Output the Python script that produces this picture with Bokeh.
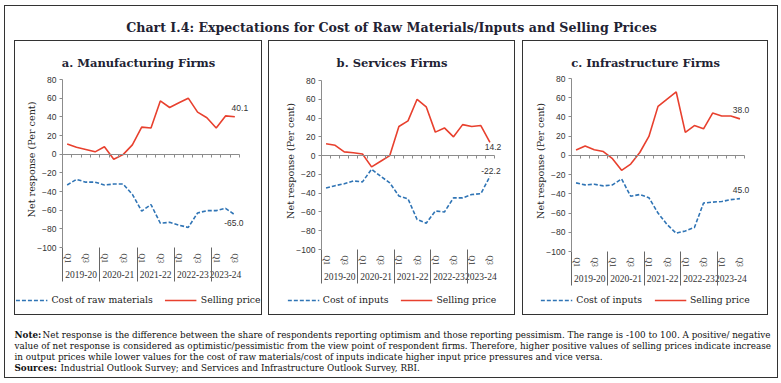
import math
from bokeh.plotting import figure
from bokeh.models import (Range1d, FixedTicker, Legend, LegendItem, LinearAxis,
                          ColumnDataSource, Spacer)
from bokeh.layouts import row, column
from bokeh.core.properties import value
from bokeh.embed import file_html
from bokeh.resources import INLINE

# ---------------- data ----------------
years = ["2019-20", "2020-21", "2021-22", "2022-23", "2023-24"]
quarters = ["Q1", "", "Q3", ""]          # Q2 / Q4 carry no label
y_ticks = [-100, -80, -60, -40, -20, 0, 20, 40, 60, 80]

mfg_cost = [-33, -27, -30, -30, -33, -32, -32, -43, -61, -54, -74, -73, -76, -78.5, -63, -60.5, -60.5, -58, -65.0]
mfg_sell = [11, 7.5, 5, 2.5, 8, -5.5, -0.5, 10, 29, 28, 57, 50, 55, 60, 45, 39, 28, 41, 40.1]
svc_cost = [-34.5, -32, -30, -27, -28, -14.5, -22, -29, -43, -46, -68, -72, -59, -60, -45, -45, -41.5, -40.5, -22.2]
svc_sell = [12.7, 11, 4, 3, 1.8, -12, -6, 0, 31, 37, 60, 52, 25, 29.5, 20, 33, 31, 32, 14.2]
inf_cost = [-28.6, -30.7, -30, -31.7, -30.7, -24.5, -42.5, -40.7, -44, -60, -72, -81, -78.6, -75, -49.6, -48.6, -48, -46, -45.0]
inf_sell = [5.5, 9.7, 5.9, 4, -3.4, -15.5, -9, 3, 19.7, 51, 58.6, 66, 24, 31, 27.6, 44, 41, 41, 38.0]

mfg_end = ["40.1", "-65.0"]
svc_end = ["14.2", "-22.2"]
inf_end = ["38.0", "45.0"]

y_label = "Net response (Per cent)"
main_title = "Chart I.4: Expectations for Cost of Raw Materials/Inputs and Selling Prices"
note_lines = [
    ("Note:", "Net response is the difference between the share of respondents reporting optimism and those reporting pessimism. The range is -100 to 100. A positive/ negative"),
    ("", "value of net response is considered as optimistic/pessimistic from the view point of respondent firms. Therefore, higher positive values of selling prices indicate increase"),
    ("", "in output prices while lower values for the cost of raw materials/cost of inputs indicate higher input price pressures and vice versa."),
    ("Sources:", "Industrial Outlook Survey; and Services and Infrastructure Outlook Survey, RBI."),
]

N = len(mfg_sell)
cats = [(y, q) for y in years for q in quarters][:N]
xs = [i + 0.5 for i in range(N)]                       # category centres on the index scale
q_over = {i + 0.5: cats[i][1] for i in range(N)}
grp_count = [sum(1 for c in cats if c[0] == y) for y in years]
grp_start = [sum(grp_count[:k]) for k in range(len(years))]
yr_over = {grp_start[k] + grp_count[k] / 2: years[k] for k in range(len(years))}

RED = "#e8402e"
BLUE = "#2f74b5"
SERIF = "DejaVu Serif"
SERIF2 = "Liberation Serif"
SANS = "Liberation Sans"
DARK = "#222233"
GRAY = "#8c8c8c"
BOX = {"outline": "1px solid #333333", "outline-offset": "-1px"}
PH = 275


def blank(ticks):
    return {t: "" for t in ticks}


def make_panel(title, cost, sell, cost_name, end_labels, geom, offs):
    width, left, right, top, bottom = geom
    cw = (width - left - right) / N
    ppu = (PH - top - bottom) / 180.0
    xr = Range1d(-left / cw, N + right / cw)
    yr = Range1d(-100 - bottom / ppu, 80 + top / ppu)
    p = figure(width=width, height=PH, x_range=xr, y_range=yr,
               output_backend="svg", toolbar_location=None,
               x_axis_location=None, y_axis_location=None, min_border=0)
    p.styles = BOX
    p.background_fill_color = None
    p.border_fill_color = None
    p.outline_line_color = None
    p.xgrid.visible = False
    p.ygrid.visible = False

    # panel title
    p.text(x=[(xr.start + xr.end) / 2], y=[yr.end - 22 / ppu], text=[title],
           text_align="center", text_baseline="alphabetic", text_font=value(SERIF),
           text_font_style="bold", text_font_size="11.5px", text_color=DARK)

    # y axis at the left edge of the category area
    yax = LinearAxis(fixed_location=0, bounds=(-100, 80), ticker=FixedTicker(ticks=y_ticks),
                     major_tick_out=3, major_tick_in=0, minor_tick_line_color=None,
                     axis_line_color=GRAY, major_tick_line_color=GRAY,
                     major_label_text_font=SANS, major_label_text_font_size="8.5px",
                     major_label_text_color="#333333", major_label_standoff=3)
    p.add_layout(yax, "left")

    # y axis title
    p.text(x=[-31 / cw], y=[-10 + 4 / ppu], text=[y_label], angle=math.pi / 2,
           text_align="center", text_baseline="middle", text_font=value(SERIF),
           text_font_size="9.6px", text_color="#222222")

    # category axis along y = 0 (ticks at category boundaries)
    bticks = list(range(N + 1))
    zax = LinearAxis(fixed_location=0, bounds=(0, N), ticker=FixedTicker(ticks=bticks),
                     major_label_overrides=blank(bticks), major_tick_out=3, major_tick_in=0,
                     minor_tick_line_color=None, axis_line_color=GRAY,
                     major_tick_line_color=GRAY)
    p.add_layout(zax, "below")

    # quarter labels under the plot
    qax = LinearAxis(fixed_location=-100, bounds=(0, N), ticker=FixedTicker(ticks=xs),
                     major_label_overrides=q_over, major_label_orientation="vertical",
                     major_label_text_font=SERIF2, major_label_text_font_size="7.8px",
                     major_label_text_color="#333333", major_label_standoff=6,
                     major_tick_out=0, major_tick_in=0,
                     axis_line_color=None, major_tick_line_color=None,
                     minor_tick_line_color=None)
    p.add_layout(qax, "below")

    # year group labels
    yticks = list(yr_over.keys())
    gax = LinearAxis(fixed_location=-100, bounds=(0, N), ticker=FixedTicker(ticks=yticks),
                     major_label_overrides=yr_over, major_label_text_font=SERIF2,
                     major_label_text_font_size="9.5px", major_label_text_color="#333333",
                     major_label_standoff=23, major_tick_out=0, major_tick_in=0,
                     axis_line_color=None,
                     major_tick_line_color=None, minor_tick_line_color=None)
    p.add_layout(gax, "below")

    # group separators
    sax = LinearAxis(fixed_location=-100, bounds=(0, N), ticker=FixedTicker(ticks=grp_start),
                     major_label_overrides=blank(grp_start), axis_line_color=None,
                     major_tick_out=34, major_tick_in=0, major_tick_line_color="#666666",
                     minor_tick_line_color=None)
    p.add_layout(sax, "below")

    src = ColumnDataSource(dict(x=xs, cost=cost, sell=sell))
    r_cost = p.line("x", "cost", source=src, line_color=BLUE, line_width=1.6, line_dash="4 2")
    r_sell = p.line("x", "sell", source=src, line_color=RED, line_width=1.6)

    sdx, sdy, cdx, cdy = offs
    p.text(x=[xs[-1]], y=[sell[-1]], text=[end_labels[0]], x_offset=sdx, y_offset=sdy,
           text_align="center", text_baseline="middle", text_font=value(SANS),
           text_font_size="8.5px", text_color="#333333")
    p.text(x=[xs[-1]], y=[cost[-1]], text=[end_labels[1]], x_offset=cdx, y_offset=cdy,
           text_align="center", text_baseline="middle", text_font=value(SANS),
           text_font_size="8.5px", text_color="#333333")

    legend = Legend(items=[LegendItem(label=cost_name, renderers=[r_cost]),
                           LegendItem(label="Selling price", renderers=[r_sell])],
                    orientation="horizontal", location="bottom_center",
                    border_line_color=None, background_fill_alpha=0,
                    label_text_font=SERIF, label_text_font_size="9.3px",
                    label_text_color="#222222",
                    glyph_width=32, glyph_height=10, label_height=10,
                    label_standoff=4, spacing=12, padding=2, margin=10)
    p.add_layout(legend)
    return p


pa = make_panel("a. Manufacturing Firms", mfg_cost, mfg_sell, "Cost of raw materials", mfg_end,
                (248, 48, 23, 39, 68), (5, -9, -1, 8))
pb = make_panel("b. Services Firms", svc_cost, svc_sell, "Cost of inputs", svc_end,
                (247, 53, 21, 40, 66), (3, 5, 1, -5))
pc = make_panel("c. Infrastructure Firms", inf_cost, inf_sell, "Cost of inputs", inf_end,
                (246, 49, 24, 38, 64), (1, -9, 1, -8.5))

W = 774

# title strip
TH = 35
pt = figure(width=W, height=TH, x_range=Range1d(0, W), y_range=Range1d(TH, 0),
            output_backend="svg", toolbar_location=None,
            x_axis_location=None, y_axis_location=None, min_border=0)
pt.outline_line_color = None
pt.background_fill_color = None
pt.border_fill_color = None
pt.xgrid.visible = False
pt.ygrid.visible = False
pt.text(x=[W / 2], y=[22], text=[main_title], text_align="center",
        text_baseline="alphabetic", text_font=value(SERIF), text_font_style="bold",
        text_font_size="12.6px", text_color=DARK)

# note strip
NH = 63
pn = figure(width=W, height=NH, x_range=Range1d(0, W), y_range=Range1d(NH, 0),
            output_backend="svg", toolbar_location=None,
            x_axis_location=None, y_axis_location=None, min_border=0)
pn.outline_line_color = None
pn.background_fill_color = None
pn.border_fill_color = None
pn.xgrid.visible = False
pn.ygrid.visible = False
bold_w = {"Note:": 28, "Sources:": 46, "": 0}
for i, (lead, rest) in enumerate(note_lines):
    yb = 19 + i * 11.3
    if lead:
        pn.text(x=[10], y=[yb], text=[lead], text_align="left", text_baseline="alphabetic",
                text_font=value(SERIF), text_font_style="bold", text_font_size="8.8px",
                text_color="#111111")
    pn.text(x=[10 + bold_w[lead]], y=[yb], text=[rest], text_align="left",
            text_baseline="alphabetic", text_font=value(SERIF), text_font_size="8.8px",
            text_color="#111111")

panels = row(Spacer(width=10, height=PH), pa, Spacer(width=6, height=PH), pb,
             Spacer(width=7, height=PH), pc, Spacer(width=6, height=PH))
inner = column(pt, panels, pn, styles=BOX)
page = column(Spacer(width=781, height=5),
              row(Spacer(width=4, height=TH + PH + NH), inner,
                  Spacer(width=3, height=TH + PH + NH)))

open("out.html", "w").write(file_html(page, INLINE))
